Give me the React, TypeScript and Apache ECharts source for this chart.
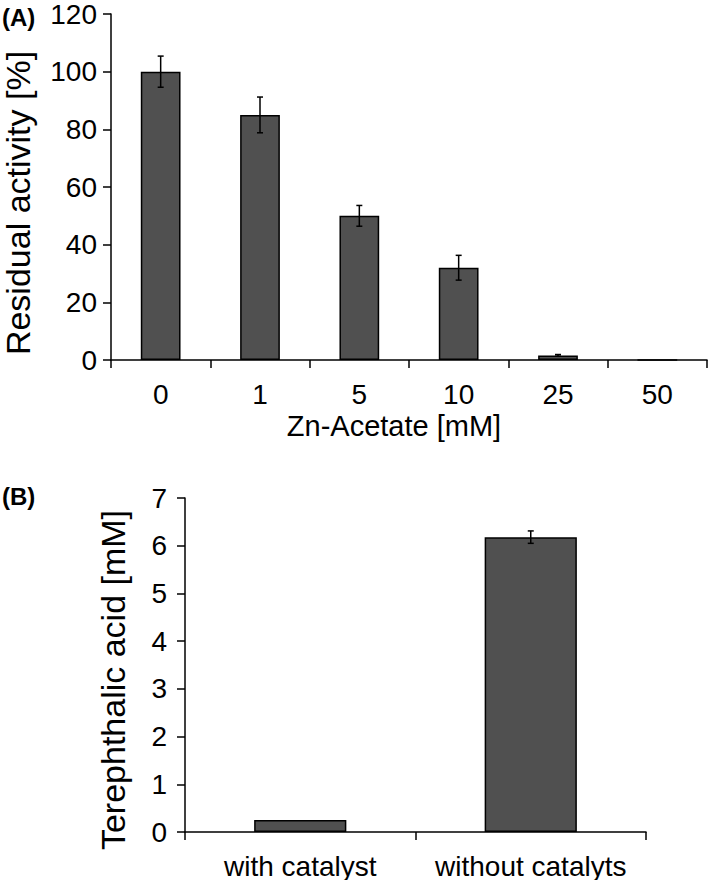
import React, { useEffect, useRef } from "react";
import * as echarts from "echarts";

const categoriesA = ["0", "1", "5", "10", "25", "50"];
const valuesA = [100, 85, 50, 32, 1.6, 0];
const errorsA = [5.4, 6.2, 3.6, 4.3, 0.3, 0];
const ticksA = { min: 0, max: 120, interval: 20 };

const categoriesB = ["with catalyst", "without catalyts"];
const valuesB = [0.25, 6.18];
const errorsB = [0, 0.13];
const ticksB = { min: 0, max: 7, interval: 1 };

const FONT = '"Liberation Sans", Arial, Helvetica, sans-serif';

function errorRender(params: any, api: any) {
  const i = api.value(0);
  const v = api.value(1);
  const e = api.value(2);
  if (!e) return null;
  const hi = api.coord([i, v + e]);
  const lo = api.coord([i, v - e]);
  const w = 3;
  const st = { stroke: "#000", lineWidth: 1.5 };
  return {
    type: "group",
    children: [
      { type: "line", shape: { x1: hi[0], y1: hi[1], x2: lo[0], y2: lo[1] }, style: st },
      { type: "line", shape: { x1: hi[0] - w, y1: hi[1], x2: hi[0] + w, y2: hi[1] }, style: st },
      { type: "line", shape: { x1: lo[0] - w, y1: lo[1], x2: lo[0] + w, y2: lo[1] }, style: st },
    ],
  };
}

export default function App() {
  const ref = useRef<HTMLDivElement>(null);
  useEffect(() => {
    if (!ref.current) return;
    const chart = echarts.init(ref.current, null, { renderer: "svg" });
    const axisLine = { show: true, lineStyle: { color: "#000", width: 1.5 } };
    const axisTick = { show: true, inside: false, length: 8, lineStyle: { color: "#000", width: 1.5 } };
    const label = (margin: number) => ({
      color: "#000",
      fontSize: 28,
      fontFamily: FONT,
      margin,
      interval: 0,
    });
    chart.setOption({
      animation: false,
      backgroundColor: "#fff",
      grid: [
        { left: 111, top: 11, width: 596, height: 349 },
        { left: 185, top: 498, width: 461, height: 334 },
      ],
      xAxis: [
        {
          type: "category",
          gridIndex: 0,
          data: categoriesA,
          axisLine,
          axisTick,
          axisLabel: label(20),
          splitLine: { show: false },
        },
        {
          type: "category",
          gridIndex: 1,
          data: categoriesB,
          axisLine,
          axisTick,
          axisLabel: { ...label(20), hideOverlap: false },
          splitLine: { show: false },
        },
      ],
      yAxis: [
        {
          type: "value",
          gridIndex: 0,
          ...ticksA,
          axisLine,
          axisTick,
          axisLabel: { color: "#000", fontSize: 28, fontFamily: FONT, margin: 14 },
          splitLine: { show: false },
        },
        {
          type: "value",
          gridIndex: 1,
          ...ticksB,
          axisLine,
          axisTick,
          axisLabel: { color: "#000", fontSize: 28, fontFamily: FONT, margin: 18 },
          splitLine: { show: false },
        },
      ],
      series: [
        {
          type: "bar",
          xAxisIndex: 0,
          yAxisIndex: 0,
          data: valuesA,
          barWidth: "40%",
          itemStyle: { color: "#505050", borderColor: "#000", borderWidth: 1.5 },
        },
        {
          type: "custom",
          xAxisIndex: 0,
          yAxisIndex: 0,
          renderItem: errorRender,
          data: valuesA.map((v, i) => [i, v, errorsA[i]]),
          z: 10,
        },
        {
          type: "bar",
          xAxisIndex: 1,
          yAxisIndex: 1,
          data: valuesB,
          barWidth: "40%",
          itemStyle: { color: "#505050", borderColor: "#000", borderWidth: 1.5 },
        },
        {
          type: "custom",
          xAxisIndex: 1,
          yAxisIndex: 1,
          renderItem: errorRender,
          data: valuesB.map((v, i) => [i, v, errorsB[i]]),
          z: 10,
        },
      ],
      graphic: [
        {
          type: "text",
          x: 2,
          y: 17,
          style: { text: "(A)", font: `bold 24px ${FONT}`, fill: "#000", textAlign: "left", textVerticalAlign: "middle", align: "left", verticalAlign: "middle" },
        },
        {
          type: "text",
          x: 2,
          y: 496,
          style: { text: "(B)", font: `bold 24px ${FONT}`, fill: "#000", textAlign: "left", textVerticalAlign: "middle", align: "left", verticalAlign: "middle" },
        },
        {
          type: "text",
          x: 18,
          y: 203,
          rotation: Math.PI / 2,
          style: { text: "Residual activity [%]", font: `34px ${FONT}`, fill: "#000", textAlign: "center", textVerticalAlign: "middle", align: "center", verticalAlign: "middle" },
        },
        {
          type: "text",
          x: 394,
          y: 426,
          style: { text: "Zn-Acetate [mM]", font: `29px ${FONT}`, fill: "#000", textAlign: "center", textVerticalAlign: "middle", align: "center", verticalAlign: "middle" },
        },
        {
          type: "text",
          x: 113,
          y: 680,
          rotation: Math.PI / 2,
          style: { text: "Terephthalic acid [mM]", font: `34px ${FONT}`, fill: "#000", textAlign: "center", textVerticalAlign: "middle", align: "center", verticalAlign: "middle" },
        },
      ],
    });
    return () => chart.dispose();
  }, []);
  return (
    <div
      ref={ref}
      style={{ position: "fixed", left: 0, top: 0, width: 709, height: 880, background: "#fff" }}
    />
  );
}
